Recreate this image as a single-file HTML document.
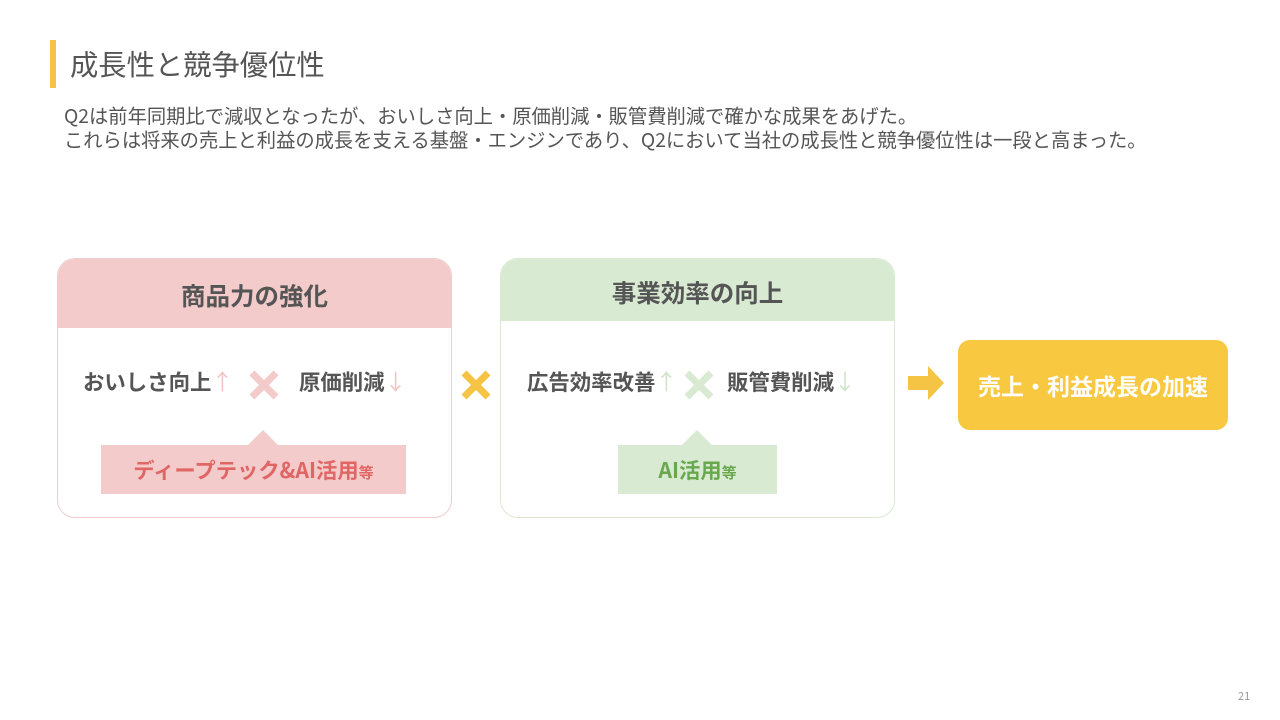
<!DOCTYPE html>
<html><head><meta charset="utf-8"><style>
*{margin:0;padding:0;box-sizing:border-box}
body{width:1280px;height:720px;background:#fff;position:relative;overflow:hidden;font-family:"Noto Sans CJK JP",sans-serif;color:#555}
.a{position:absolute}
.box{position:absolute;top:258px;width:395px;height:260px;border-radius:18px;background:#fff;overflow:hidden}
.hd{position:absolute;left:0;top:0;width:100%;font-weight:bold;font-size:24.5px;color:#555;text-align:center}
.row{position:absolute;top:366px;font-weight:bold;font-size:21.4px;line-height:30px;color:#555;white-space:nowrap}
.row span{font-weight:normal;font-size:22px}
.tag{position:absolute;font-weight:bold;font-size:21.3px;text-align:center;line-height:49px}
.tri{position:absolute;width:0;height:0;border-left:15px solid transparent;border-right:15px solid transparent}
</style></head><body>
<div class="a" style="left:50px;top:40px;width:6px;height:48px;background:#f6c444"></div>
<div class="a" style="left:70px;top:44px;font-size:28.3px;line-height:40px;color:#555">成長性と競争優位性</div>
<div class="a" style="left:64px;top:104px;font-size:19.3px;line-height:23.5px;color:#555;white-space:nowrap">Q2は前年同期比で減収となったが、おいしさ向上・原価削減・販管費削減で確かな成果をあげた。<br>これらは将来の売上と利益の成長を支える基盤・エンジンであり、Q2において当社の成長性と競争優位性は一段と高まった。</div>

<div class="box" style="left:57px;border:1.5px solid #f0cccc">
 <div class="hd" style="height:69px;line-height:74px;background:#f3cbcb">商品力の強化</div>
</div>
<div class="row" style="left:83px">おいしさ向上<span style="color:#f3c4c4">↑</span></div>
<svg class="a" style="left:249px;top:370px" width="30" height="30"><path d="M3 3L27 27M27 3L3 27" stroke="#f3cbcb" stroke-width="7"/></svg>
<div class="row" style="left:299px">原価削減<span style="color:#f3c4c4">↓</span></div>
<div class="tri" style="left:248px;top:430px;border-bottom:15px solid #f3cbcb"></div>
<div class="tag" style="left:101px;top:445px;width:305px;height:49px;background:#f3cbcb;color:#e06666">ディープテック&amp;AI活用<span style="font-size:15px">等</span></div>

<svg class="a" style="left:461px;top:370px" width="30" height="30"><path d="M3 3L27 27M27 3L3 27" stroke="#f6c444" stroke-width="7"/></svg>

<div class="box" style="left:500px;border:1.5px solid #d9ead3">
 <div class="hd" style="height:62px;line-height:68px;background:#d9ead3">事業効率の向上</div>
</div>
<div class="row" style="left:527px">広告効率改善<span style="color:#cfe3c8">↑</span></div>
<svg class="a" style="left:684px;top:370px" width="30" height="30"><path d="M3 3L27 27M27 3L3 27" stroke="#d9ead3" stroke-width="7"/></svg>
<div class="row" style="left:727px">販管費削減<span style="color:#cfe3c8">↓</span></div>
<div class="tri" style="left:682px;top:430px;border-bottom:15px solid #d9ead3"></div>
<div class="tag" style="left:618px;top:445px;width:159px;height:49px;background:#d9ead3;color:#6aa84f">AI活用<span style="font-size:15px">等</span></div>

<svg class="a" style="left:908px;top:366px" width="38" height="34"><polygon points="0,10 20,10 20,0 36,17 20,34 20,24 0,24" fill="#f6c444"/></svg>
<div class="a" style="left:958px;top:340px;width:270px;height:90px;border-radius:12px;background:#f8c840;color:#fff;font-weight:bold;font-size:23px;text-align:center;line-height:90px">売上・利益成長の加速</div>
<div class="a" style="left:1238px;top:688px;font-size:11px;color:#999">21</div>
</body></html>
